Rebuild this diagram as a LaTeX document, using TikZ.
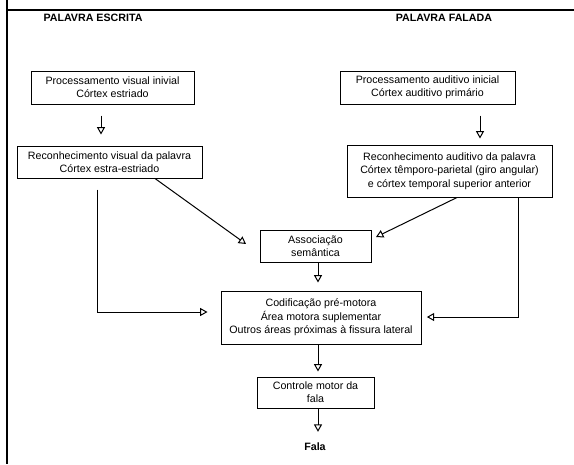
\documentclass[tikz,border=0pt]{standalone}
\usepackage{fontspec}
\setmainfont{Liberation Sans}
\usetikzlibrary{arrows.meta}
\begin{document}
\begin{tikzpicture}[x=0.75pt,y=-0.75pt,
  box/.style={draw, line width=0.75pt, align=center, inner sep=0pt, font=\fontsize{8}{10}\selectfont},
  conn/.style={line width=0.75pt, -{Triangle[open,length=5.5pt,width=6pt]}},
  lbl/.style={font=\fontsize{8}{10}\selectfont\bfseries, inner sep=0pt},
  frame/.style={line width=1pt}]
\useasboundingbox (0,0) rectangle (574,464);
\draw[frame] (7,0) -- (7,464);
\draw[frame] (7,10) -- (574,10);

\node[lbl] (pe) at (93,18) {PALAVRA ESCRITA};
\node[lbl] (pf) at (444,18) {PALAVRA FALADA};

\node[box, minimum width=122.25pt, minimum height=24.75pt] (b1) at (112.5,87.5) {Processamento visual inivial\\Córtex estriado};
\node[box, minimum width=131.25pt, minimum height=24.75pt] (b2) at (427.5,87.5) {Processamento auditivo inicial\\Córtex auditivo primário};
\node[box, minimum width=138.75pt, minimum height=24pt] (rv) at (109.5,162) {Reconhecimento visual da palavra\\Córtex estra-estriado};
\node[box, minimum width=153.75pt, minimum height=39pt] (ra) at (449.5,171) {Reconhecimento auditivo da palavra\\Córtex têmporo-parietal (giro angular)\\e córtex temporal superior anterior};
\node[box, minimum width=83.25pt, minimum height=24pt] (as) at (315.5,246) {Associação\\semântica};
\node[box, minimum width=150pt, minimum height=39.75pt] (co) at (321,317.5) {Codificação pré-motora\\Área motora suplementar\\Outros áreas próximas à fissura lateral};
\node[box, minimum width=87.75pt, minimum height=23.25pt] (cm) at (315.5,392.5) {Controle motor da\\fala};
\node[lbl] (fala) at (315,447) {Fala};

\coordinate (xa) at (101,0);
\coordinate (xb) at (480,0);
\coordinate (xc) at (318,0);
\coordinate (xl) at (97,0);
\coordinate (xr) at (518,0);
\coordinate (yl) at (0,312);
\coordinate (yr) at (0,317);
\coordinate (xd1) at (155,0);
\coordinate (xd2) at (457,0);
\coordinate (t1) at (246,244);
\coordinate (t2) at (376,237);

\draw[conn, shorten <=8.25pt, shorten >=8.25pt] (b1.south -| xa) -- (rv.north -| xa);
\draw[conn, shorten <=8.25pt, shorten >=4.5pt] (b2.south -| xb) -- (ra.north -| xb);
\draw[conn] (rv.south -| xd1) -- (t1);
\draw[conn] (ra.south -| xd2) -- (t2);
\draw[conn, shorten >=6pt] (as.south -| xc) -- (co.north -| xc);
\draw[conn, shorten <=8.25pt, shorten >=9.75pt] (rv.south -| xl) -- (xl |- yl) -- (co.west |- yl);
\draw[conn, shorten >=4pt] (ra.south -| xr) -- (xr |- yr) -- (co.east |- yr);
\draw[conn, shorten >=3.75pt] (co.south -| xc) -- (cm.north -| xc);
\draw[conn, shorten >=8.25pt] (cm.south -| xc) -- (fala.north -| xc);
\end{tikzpicture}
\end{document}
